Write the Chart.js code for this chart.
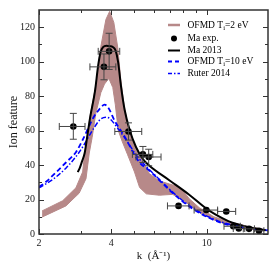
<!DOCTYPE html>
<html>
<head>
<meta charset="utf-8">
<script src="https://cdn.jsdelivr.net/npm/chart.js@4/dist/chart.umd.min.js"></script>
<style>
  html, body { margin: 0; padding: 0; background: #fff; }
  canvas { display: block; }
</style>
</head>
<body>
<canvas id="chart" width="275" height="268"></canvas>
<script>
// axis ticks
const xTicks = [2, 4, 10];
const xMinorTicks = [3, 5, 6, 7, 8, 9];
const yTicks = [0, 20, 40, 60, 80, 100, 120];
const yMinorTicks = [10, 30, 50, 70, 90, 110];

// OFMD Ti=2 eV band: outer and inner edge
const bandUpperK = [2.06, 2.51, 2.85, 3.04, 3.10, 3.18, 3.26, 3.45, 3.62, 3.80, 3.94, 4.10, 4.26, 4.38, 4.53, 4.75, 5.05, 5.4, 5.77, 6.35, 7.0, 7.6, 7.9, 8.45, 9.3, 10.7, 12.3, 15.0, 17.4];
const bandUpperY = [13.4, 19.3, 26.8, 36, 47, 57, 67.9, 86.4, 108.8, 124.5, 129.2, 122.8, 108, 90, 74, 59.5, 49, 42, 35, 30.8, 29, 27.5, 25.8, 20.5, 15.3, 10, 7.3, 4.2, 2.6];
const bandLowerK = [2.06, 2.11, 2.59, 2.94, 3.14, 3.24, 3.33, 3.45, 3.62, 3.75, 3.91, 4.06, 4.16, 4.28, 4.45, 4.68, 5.0, 5.25, 5.6, 6.35, 7.2, 7.8, 8.45, 9.3, 10.7, 12.3, 15.0, 17.4];
const bandLowerY = [9.8, 10.5, 16.3, 23.7, 32.1, 47, 56, 70, 82, 87, 90.3, 85, 75, 60, 53.5, 46, 36, 27, 23.3, 22.5, 23, 20.5, 17, 12.5, 8.2, 5.3, 3.0, 1.8];

// Ma exp. points with error bars
const expK = [2.78, 3.73, 3.92, 4.72, 5.42, 5.73, 7.63, 9.96, 12.06, 12.9, 13.6, 15.0, 16.5];
const expY = [62.4, 97.0, 106.0, 59.5, 46.2, 44.7, 16.3, 13.9, 13.1, 4.5, 3.2, 3.0, 1.9];
const expKLo = [2.43, 3.26, 3.53, 4.14, 4.9, 5.07, 6.86, 8.86, 11.1, 11.8, 12.9, 14.2, 15.7];
const expKHi = [3.11, 4.18, 4.34, 5.36, 5.96, 6.45, 8.44, 11.1, 13.2, 13.8, 14.4, 15.8, 17.3];
const expYLo = [55, 89.5, 95.5, 54.5, 41.5, 39.6, 15.5, 13.0, 12.3, 4.0, 2.8, 2.6, 1.5];
const expYHi = [70, 104.5, 116.5, 64.5, 50.8, 49.2, 17.1, 14.8, 13.9, 5.0, 3.6, 3.4, 2.3];

// Ma 2013
const maK = [2.90, 2.95, 3.02, 3.10, 3.18, 3.27, 3.42, 3.53, 3.61, 3.70, 3.82, 3.94, 4.06, 4.17, 4.27, 4.40, 4.55, 4.77, 5.07, 5.42, 5.77, 6.98, 8.45, 9.9, 10.9, 12.3, 14.0, 16.0, 17.6];
const maY = [35.9, 37.9, 42, 47, 57, 68, 82.6, 98, 105.5, 108.4, 109.2, 109, 108.5, 106.5, 100, 85, 72, 60.5, 50.5, 43.5, 39.6, 31.2, 22.8, 15, 11.2, 7.5, 5.0, 3.2, 2.2];

// OFMD Ti=10 eV
const ofmdK = [2.0, 2.14, 2.36, 2.59, 2.85, 3.05, 3.37, 3.6, 3.75, 3.9, 4.13, 4.55, 5.0, 5.25, 5.77, 6.35, 6.98, 7.9, 9.0, 10.2, 11.6, 13.2, 15.0, 17.6, 18];
const ofmdY = [27.3, 30.3, 35.9, 41.5, 47.5, 55, 67.5, 73, 75.1, 73, 65.8, 56.5, 46, 41.5, 36.8, 31.2, 25.6, 19.1, 13.5, 9.4, 6.3, 4.5, 3.2, 2.2, 2.0];

// Ruter 2014
const ruterK = [2.0, 2.3, 2.6, 2.96, 3.37, 3.6, 3.8, 3.94, 4.27, 4.62, 5.07, 5.77, 6.35, 6.98, 7.9, 9.0, 10.2, 11.6, 13.2, 15.0, 17.6, 18];
const ruterY = [26.8, 32, 38.5, 48, 61, 66.5, 67.8, 67, 61.1, 54.6, 46, 37.3, 31.7, 26.1, 19.6, 14, 9.9, 6.8, 4.9, 3.5, 2.4, 2.2];

const brown = "rgb(183,137,137)";
const serif = "'Liberation Serif', 'Times New Roman', serif";

function pts(ks, ys) {
  return ks.map((k, i) => ({ x: k, y: ys[i] }));
}

// frame and inward ticks on all four sides
const framePlugin = {
  id: "frame",
  afterDraw(chart) {
    const { ctx, chartArea: a, scales: { x, y } } = chart;
    ctx.save();
    ctx.strokeStyle = "#333";
    ctx.lineWidth = 1;
    xTicks.concat(xMinorTicks).forEach(v => {
      const px = Math.round(x.getPixelForValue(v)) + 0.5;
      const len = xTicks.includes(v) ? 5 : 3;
      ctx.beginPath();
      ctx.moveTo(px, a.bottom); ctx.lineTo(px, a.bottom - len);
      ctx.moveTo(px, a.top); ctx.lineTo(px, a.top + len);
      ctx.stroke();
    });
    yTicks.concat(yMinorTicks).forEach(v => {
      const py = Math.round(y.getPixelForValue(v)) + 0.5;
      const len = yTicks.includes(v) ? 5 : 3;
      ctx.beginPath();
      ctx.moveTo(a.left, py); ctx.lineTo(a.left + len, py);
      ctx.moveTo(a.right, py); ctx.lineTo(a.right - len, py);
      ctx.stroke();
    });
    ctx.lineWidth = 1.5;
    ctx.strokeRect(a.left, a.top, a.right - a.left, a.bottom - a.top);
    ctx.restore();
  }
};

// x and y error bars for Ma exp.
const errorBars = {
  id: "errorBars",
  afterDatasetsDraw(chart) {
    const { ctx, scales: { x, y } } = chart;
    const cap = 3.5;
    ctx.save();
    ctx.strokeStyle = "#444";
    ctx.lineWidth = 1;
    expK.forEach((k, i) => {
      const px = x.getPixelForValue(k), py = y.getPixelForValue(expY[i]);
      const x0 = x.getPixelForValue(expKLo[i]), x1 = x.getPixelForValue(expKHi[i]);
      const y0 = y.getPixelForValue(expYLo[i]), y1 = y.getPixelForValue(expYHi[i]);
      ctx.beginPath();
      ctx.moveTo(x0, py); ctx.lineTo(x1, py);
      ctx.moveTo(x0, py - cap); ctx.lineTo(x0, py + cap);
      ctx.moveTo(x1, py - cap); ctx.lineTo(x1, py + cap);
      if (Math.abs(y1 - y0) > 4) {
        ctx.moveTo(px, y0); ctx.lineTo(px, y1);
        ctx.moveTo(px - cap, y0); ctx.lineTo(px + cap, y0);
        ctx.moveTo(px - cap, y1); ctx.lineTo(px + cap, y1);
      }
      ctx.stroke();
    });
    ctx.restore();
  }
};

// legend drawn inside the plot, with subscripts
const legendBox = {
  id: "legendBox",
  afterDraw(chart) {
    const ctx = chart.ctx;
    const x0 = 168, x1 = 180, tx = 187.5;
    const rows = [
      { y: 25, kind: "band", parts: [["OFMD T"], ["i", 1], ["=2 eV"]] },
      { y: 38.5, kind: "dot", parts: [["Ma exp."]] },
      { y: 50.5, kind: "line", parts: [["Ma 2013"]] },
      { y: 61.5, kind: "dash", parts: [["OFMD T"], ["i", 1], ["=10 eV"]] },
      { y: 73.5, kind: "dashdot", parts: [["Ruter 2014"]] }
    ];
    ctx.save();
    rows.forEach(r => {
      ctx.beginPath();
      ctx.setLineDash([]);
      if (r.kind === "dot") {
        ctx.fillStyle = "#000";
        ctx.arc((x0 + x1) / 2, r.y, 3, 0, Math.PI * 2);
        ctx.fill();
      } else {
        if (r.kind === "band") { ctx.strokeStyle = brown; ctx.lineWidth = 2.5; }
        if (r.kind === "line") { ctx.strokeStyle = "#000"; ctx.lineWidth = 2; }
        if (r.kind === "dash") { ctx.strokeStyle = "#0000ff"; ctx.lineWidth = 1.8; ctx.setLineDash([4, 3]); }
        if (r.kind === "dashdot") { ctx.strokeStyle = "#0000ff"; ctx.lineWidth = 1.5; ctx.setLineDash([4, 2, 1.5, 2]); }
        ctx.moveTo(x0, r.y); ctx.lineTo(x1, r.y);
        ctx.stroke();
      }
      let cx = tx;
      ctx.fillStyle = "#000";
      ctx.textBaseline = "middle";
      r.parts.forEach(([t, sub]) => {
        ctx.font = (sub ? "6.5px " : "9.5px ") + serif;
        ctx.fillText(t, cx, r.y + (sub ? 3 : 0));
        cx += ctx.measureText(t).width;
      });
    });
    ctx.restore();
  }
};

new Chart(document.getElementById("chart"), {
  type: "line",
  data: {
    datasets: [
      {
        label: "OFMD Ti=2 eV",
        data: pts(bandUpperK, bandUpperY),
        borderColor: brown,
        backgroundColor: brown,
        borderWidth: 1,
        pointRadius: 0,
        tension: 0,
        fill: "+1",
        order: 10
      },
      {
        label: "band lower",
        data: pts(bandLowerK, bandLowerY),
        borderColor: brown,
        borderWidth: 1,
        pointRadius: 0,
        tension: 0,
        fill: false,
        order: 11
      },
      {
        label: "Ruter 2014",
        data: pts(ruterK, ruterY),
        borderColor: "#0000ff",
        borderWidth: 1.5,
        borderDash: [5, 2, 1.5, 2],
        pointRadius: 0,
        cubicInterpolationMode: "monotone",
        fill: false,
        order: 5
      },
      {
        label: "OFMD Ti=10 eV",
        data: pts(ofmdK, ofmdY),
        borderColor: "#0000ff",
        borderWidth: 1.8,
        borderDash: [5, 3],
        pointRadius: 0,
        cubicInterpolationMode: "monotone",
        fill: false,
        order: 4
      },
      {
        label: "Ma 2013",
        data: pts(maK, maY),
        borderColor: "#000",
        borderWidth: 2,
        pointRadius: 0,
        cubicInterpolationMode: "monotone",
        fill: false,
        order: 3
      },
      {
        label: "Ma exp.",
        data: pts(expK, expY),
        showLine: false,
        pointRadius: 3.3,
        pointBackgroundColor: "#000",
        pointBorderColor: "#000",
        borderWidth: 0,
        order: 1
      }
    ]
  },
  options: {
    responsive: false,
    animation: false,
    devicePixelRatio: 1,
    layout: { padding: { top: 3, right: 7, left: 0, bottom: 0 } },
    plugins: {
      legend: { display: false },
      tooltip: { enabled: false }
    },
    scales: {
      x: {
        type: "logarithmic",
        min: 2,
        max: 18,
        grid: { display: false, drawTicks: false },
        border: { display: false },
        afterBuildTicks: s => { s.ticks = xTicks.map(v => ({ value: v })); },
        afterFit: s => { s.height = 34; },
        ticks: {
          autoSkip: false,
          maxRotation: 0,
          padding: 3,
          color: "#222",
          font: { family: serif, size: 10 },
          callback: v => String(v)
        },
        title: {
          display: true,
          text: "k  (Å⁻¹)",
          color: "#111",
          font: { family: serif, size: 11 },
          padding: { top: 0, bottom: 5 }
        }
      },
      y: {
        min: 0,
        max: 130,
        grid: { display: false, drawTicks: false },
        border: { display: false },
        afterBuildTicks: s => { s.ticks = yTicks.map(v => ({ value: v })); },
        afterFit: s => { s.width = 39; },
        ticks: {
          padding: 4,
          color: "#222",
          font: { family: serif, size: 10 }
        },
        title: {
          display: true,
          text: "Ion feature",
          color: "#111",
          font: { family: serif, size: 12 },
          padding: { top: 7, bottom: 0 }
        }
      }
    }
  },
  plugins: [framePlugin, errorBars, legendBox]
});
</script>
</body>
</html>
